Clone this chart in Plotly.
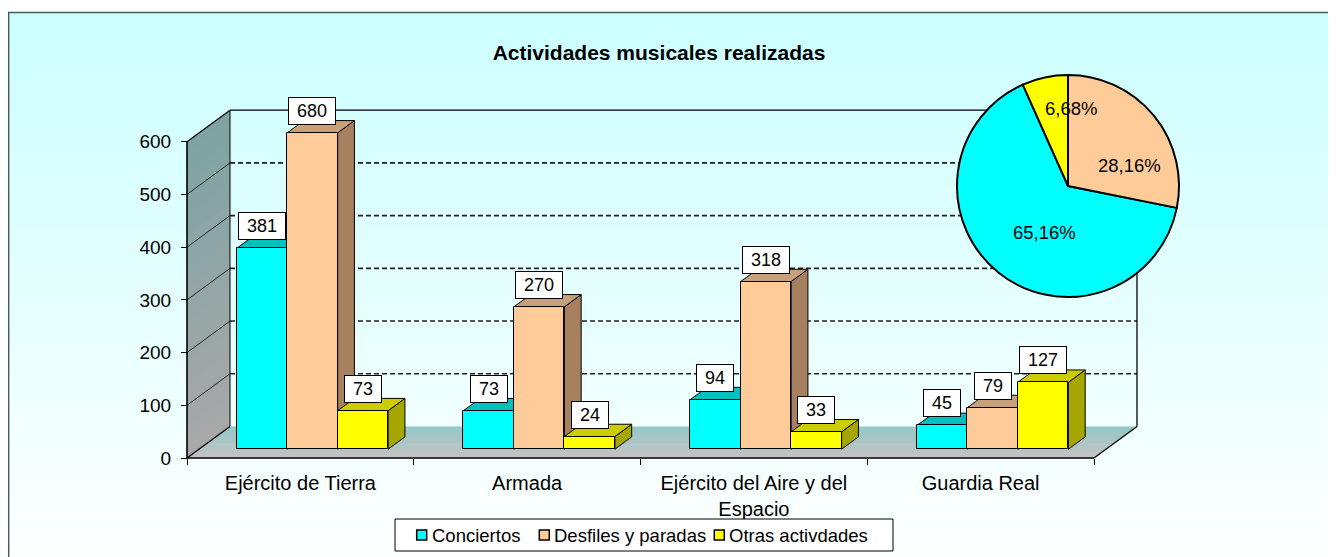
import plotly.graph_objects as go

# ---------------- data ----------------
categories = ["Ejército de Tierra", "Armada", "Ejército del Aire y del<br>Espacio", "Guardia Real"]
series_names = ["Conciertos", "Desfiles y paradas", "Otras activdades"]
conciertos = [381, 73, 94, 45]
desfiles = [680, 270, 318, 79]
otras = [73, 24, 33, 127]
series_values = [conciertos, desfiles, otras]
y_ticks = [0, 100, 200, 300, 400, 500, 600]
pie_labels = ["Conciertos", "Desfiles y paradas", "Otras activdades"]
pie_values = [65.16, 28.16, 6.68]
title_text = "Actividades musicales realizadas"

# ---------------- style ----------------
front_colors = ["#00FFFF", "#FFCC99", "#FFFF00"]
top_colors = ["#00C0C0", "#C8A07A", "#CCCC00"]
side_colors = ["#00A0A0", "#A6805F", "#A6A600"]
FONT = "Liberation Sans, Arial, sans-serif"

OFF = 8                      # page body margin of the browser
W, H = 1336 - OFF, 557 - OFF
# pixel geometry (page coordinates, shifted by OFF)
AX_X0, AX_X1 = 187 - OFF, 1094 - OFF      # category axis ends
AX_Y0, AX_YTOP = 458 - OFF, 141.7 - OFF   # value 0 and value ymax
DEPTH_DX, DEPTH_DY = 43, 31.5             # oblique depth offset
F1, F2 = 0.28, 0.67                       # bar front / back depth fractions
BAR_PX = 50.5

ymax = max(y_ticks)
ncat = len(categories)
cpx = (AX_X1 - AX_X0) / ncat
kpx = (AX_Y0 - AX_YTOP) / ymax
x_range = [-0.5 - AX_X0 / cpx, ncat - 0.5 + (W - AX_X1) / cpx]
y_range = [-(H - AX_Y0) / kpx, AX_Y0 / kpx]
DXu = DEPTH_DX / cpx
DYu = DEPTH_DY / kpx
bw = BAR_PX / cpx
xl, xr = -0.5, ncat - 0.5


def P(c, v, d):
    return c + d * DXu, v + d * DYu


def poly(pts):
    return "M" + "L".join(f"{x:.5f},{y:.5f}" for x, y in pts) + "Z"


def lerp_color(c1, c2, t):
    a = [int(c1[i:i + 2], 16) for i in (1, 3, 5)]
    b = [int(c2[i:i + 2], 16) for i in (1, 3, 5)]
    return "rgb(%d,%d,%d)" % tuple(round(a[i] + (b[i] - a[i]) * t) for i in range(3))


def px(xp):
    return xp / W


def py(yp):
    return 1 - yp / H


shapes = []
annotations = []
# background gradient (paper)
FR_X, FR_Y = 8 - OFF, 12 - OFF
nstripe = 50
for i in range(nstripe):
    y_top = FR_Y + (H - FR_Y) * i / nstripe
    y_bot = FR_Y + (H - FR_Y) * (i + 1) / nstripe + 0.8
    shapes.append(dict(type="rect", xref="paper", yref="paper", layer="below",
                       x0=px(FR_X), x1=1, y0=py(y_top), y1=max(0, py(y_bot)),
                       fillcolor=lerp_color("#CCFFFF", "#FDFFFF", i / (nstripe - 1)),
                       line=dict(width=0)))
shapes.append(dict(type="rect", xref="paper", yref="paper", layer="below",
                   x0=px(FR_X) + 0.0005, x1=1.01, y0=-0.01, y1=py(FR_Y) - 0.001,
                   fillcolor="rgba(0,0,0,0)", line=dict(color="#4A5A5A", width=1.5)))

# side wall gradient bands
nb = 30
for i in range(nb):
    v0 = ymax * i / nb
    v1 = min(ymax, ymax * (i + 1) / nb + 1.5)
    pts = [P(xl, v0, 0), P(xl, v1, 0), P(xl, v1, 1), P(xl, v0, 1)]
    shapes.append(dict(type="path", xref="x", yref="y", layer="below", path=poly(pts),
                       fillcolor=lerp_color("#A8A8A8", "#7FA3A3", i / (nb - 1)), line=dict(width=0)))
# floor gradient bands
nf = 12
for i in range(nf):
    d0 = i / nf
    d1 = min(1, (i + 1) / nf + 0.02)
    pts = [P(xl, 0, d0), P(xr, 0, d0), P(xr, 0, d1), P(xl, 0, d1)]
    shapes.append(dict(type="path", xref="x", yref="y", layer="below", path=poly(pts),
                       fillcolor=lerp_color("#C2C2C2", "#96C8C8", i / (nf - 1)), line=dict(width=0)))


def seg(p, q, color="black", width=1.3, dash="solid"):
    shapes.append(dict(type="line", xref="x", yref="y", layer="below",
                       x0=p[0], y0=p[1], x1=q[0], y1=q[1],
                       line=dict(color=color, width=width, dash=dash)))


# gridlines
for v in y_ticks[1:-1]:
    seg(P(xl, v, 1), P(xr, v, 1), color="#222222", width=1.6, dash="5px,3px")
    seg(P(xl, v, 0), P(xl, v, 1), color="#222222", width=1)
# wall edges
seg(P(xl, ymax, 0), P(xl, ymax, 1))
seg(P(xl, ymax, 1), P(xr, ymax, 1))
seg(P(xl, 0, 1), P(xl, ymax, 1), width=1)
seg(P(xr, 0, 1), P(xr, ymax, 1))
seg(P(xl, 0, 0), P(xl, 0, 1))
seg(P(xr, 0, 0), P(xr, 0, 1))
seg(P(xl, 0, 0), P(xr, 0, 0), width=1.6)
seg(P(xl, 0, 0), P(xl, ymax, 0), width=1.6)

# bars: fronts as traces, side/top faces as shapes
base_front = F1 * DYu
dbx = (F2 - F1) * DXu
dby = (F2 - F1) * DYu
traces = []
for j, (name, vals) in enumerate(zip(series_names, series_values)):
    xs = [i + (j - 1) * bw + F1 * DXu for i in range(ncat)]
    hs = [min(v, ymax) for v in vals]
    traces.append(go.Bar(x=xs, y=hs, base=base_front, width=bw, name=name, showlegend=False,
                         marker=dict(color=front_colors[j], line=dict(color="black", width=1)),
                         customdata=vals, hovertemplate="%{customdata}<extra>" + name + "</extra>"))
    for x, h, v in zip(xs, hs, vals):
        x0, x1 = x - bw / 2, x + bw / 2
        yb, yt = base_front, base_front + h
        side = [(x1, yb), (x1, yt), (x1 + dbx, yt + dby), (x1 + dbx, yb + dby)]
        top = [(x0, yt), (x1, yt), (x1 + dbx, yt + dby), (x0 + dbx, yt + dby)]
        for pts, col in ((side, side_colors[j]), (top, top_colors[j])):
            shapes.append(dict(type="path", xref="x", yref="y", layer="below", path=poly(pts),
                               fillcolor=col, line=dict(color="black", width=1)))
        annotations.append(dict(x=x, y=yt, xref="x", yref="y", yanchor="bottom", yshift=8,
                                text="\u00a0" + str(v) + "\u00a0", showarrow=False,
                                bgcolor="white", bordercolor="black", borderwidth=1, borderpad=3,
                                font=dict(family=FONT, size=18, color="black")))

fig = go.Figure(traces)

# pie inset
PIE_CX, PIE_CY, PIE_R = 1068 - OFF, 186 - OFF, 111
PIE_LABEL_OFFSETS = [(-23.3, 46.5), (61, -20.5), (2.5, -77.7)]   # label placement (px from centre)
pie_text = [f"{v:.2f}".replace(".", ",") + "%" for v in pie_values]
fig.add_trace(go.Pie(labels=pie_labels, values=pie_values, sort=False,
                     direction="counterclockwise",
                     rotation=pie_values[1] / sum(pie_values) * 360,
                     textinfo="none",
                     marker=dict(colors=front_colors, line=dict(color="black", width=2)),
                     domain=dict(x=[px(PIE_CX - PIE_R), px(PIE_CX + PIE_R)],
                                 y=[py(PIE_CY + PIE_R), py(PIE_CY - PIE_R)]),
                     showlegend=False, hoverinfo="label+percent"))
for t, (dx, dy) in zip(pie_text, PIE_LABEL_OFFSETS):
    annotations.append(dict(x=px(PIE_CX + dx), y=py(PIE_CY + dy), xref="paper", yref="paper",
                            xanchor="center", yanchor="middle", text=t, showarrow=False,
                            font=dict(family=FONT, size=18.5, color="black")))

# legend (drawn as box, swatches and text)
LG_X0, LG_X1, LG_Y0, LG_Y1 = 395 - OFF, 893 - OFF, 519 - OFF, 551 - OFF
LG_ITEMS_X = [416.7 - OFF, 539.3 - OFF, 714.3 - OFF]
SW = 10
shapes.append(dict(type="rect", xref="paper", yref="paper", x0=px(LG_X0), x1=px(LG_X1),
                   y0=py(LG_Y1), y1=py(LG_Y0), fillcolor="white", line=dict(color="black", width=1)))
ymid = (LG_Y0 + LG_Y1) / 2
for j, name in enumerate(series_names):
    sx = LG_ITEMS_X[j]
    shapes.append(dict(type="rect", xref="paper", yref="paper", x0=px(sx), x1=px(sx + SW),
                       y0=py(ymid + SW / 2), y1=py(ymid - SW / 2), fillcolor=front_colors[j],
                       line=dict(color="black", width=1.5)))
    annotations.append(dict(x=px(sx + SW + 3), y=py(ymid), xref="paper", yref="paper",
                            xanchor="left", yanchor="middle", text=name, showarrow=False,
                            font=dict(family=FONT, size=18.5, color="black")))

fig.update_layout(
    width=W, height=H,
    margin=dict(l=0, r=0, t=0, b=0),
    paper_bgcolor="white", plot_bgcolor="rgba(0,0,0,0)",
    barmode="overlay", bargap=0,
    shapes=shapes, annotations=annotations,
    title=dict(text="<b>" + title_text + "</b>", x=px(659 - OFF), y=py(53 - OFF),
               xanchor="center", yanchor="middle",
               font=dict(family=FONT, size=21, color="black")),
    showlegend=False,
    xaxis=dict(range=x_range, showgrid=False, zeroline=False, showline=False,
               tickmode="array", tickvals=list(range(ncat)), ticktext=categories,
               ticks="", anchor="free", position=(H - AX_Y0) / H, ticklabelstandoff=11,
               tickfont=dict(family=FONT, size=20, color="black"),
               minor=dict(tickmode="array", tickvals=[i - 0.5 for i in range(ncat + 1)],
                          ticks="outside", ticklen=6, tickcolor="black", tickwidth=1.3, showgrid=False),
               fixedrange=True),
    yaxis=dict(range=y_range, showgrid=False, zeroline=False, showline=False,
               tickmode="array", tickvals=y_ticks, ticks="outside", ticklen=6,
               tickcolor="black", tickwidth=1.3, anchor="free", position=AX_X0 / W,
               ticklabelstandoff=6,
               tickfont=dict(family=FONT, size=19, color="black"), fixedrange=True),
)

fig.write_html("out.html")
